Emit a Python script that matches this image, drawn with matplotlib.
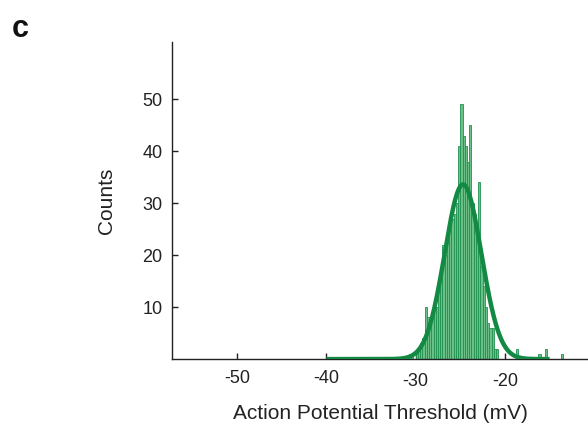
import numpy as np
import matplotlib
matplotlib.use("Agg")
import matplotlib.pyplot as plt
from matplotlib.transforms import ScaledTranslation

plt.rcParams['font.family'] = ['Liberation Sans', 'DejaVu Sans']

# histogram of AP thresholds, 0.25 mV bins
bin_width = 0.25
bin_left = [-30.75, -30.5, -30.25, -30.0, -29.75, -29.5, -29.25, -29.0, -28.75, -28.5,
            -28.25, -28.0, -27.75, -27.5, -27.25, -27.0, -26.75, -26.5, -26.25, -26.0,
            -25.75, -25.5, -25.25, -25.0, -24.75, -24.5, -24.25, -24.0, -23.75, -23.5,
            -23.25, -23.0, -22.75, -22.5, -22.25, -22.0, -21.75, -21.5, -21.25, -21.0,
            -18.75, -16.25, -15.5, -13.75]
counts = [1, 1, 0, 1, 2, 3, 4, 10, 8, 6,
          8, 10, 10, 14, 17, 22, 20, 23, 25, 27,
          28, 30, 41, 49, 43, 41, 38, 45, 30, 28,
          25, 34, 18, 14, 10, 7, 6, 6, 2, 2,
          2, 1, 2, 1]

# gaussian fit parameters
fit_mu = -24.7
fit_sigma = 2.05
fit_peak = 33.6
fit_range = (-40, -15)

xticks = [-50, -40, -30, -20]
yticks = [10, 20, 30, 40, 50]

fig = plt.figure(figsize=(5.88, 4.28), dpi=100)
ax = fig.add_axes([0.2925, 0.161, 0.7075, 0.741])

ax.bar(bin_left, counts, width=bin_width, align='edge',
       color='#6cbf86', edgecolor='#1f9150', linewidth=0.6, zorder=2)

xs = np.linspace(fit_range[0], fit_range[1], 400)
ax.plot(xs, fit_peak * np.exp(-0.5 * ((xs - fit_mu) / fit_sigma) ** 2),
        color='#138a43', lw=3.2, zorder=3, solid_capstyle='butt')

ax.set_xlim(-57.3, -10.7)
ax.set_ylim(0, 61)
ax.set_xticks(xticks)
ax.set_xticklabels([str(t) for t in xticks])
ax.set_yticks(yticks)

for s in ['top', 'right']:
    ax.spines[s].set_visible(False)
for s in ['left', 'bottom']:
    ax.spines[s].set_linewidth(1.0)
    ax.spines[s].set_color('#222222')

ax.tick_params(direction='in', length=4, width=1, colors='#222222',
               labelsize=13, labelcolor='#222222')
ax.tick_params(axis='x', pad=8)
ax.tick_params(axis='y', pad=7)

# the -30 / -20 labels sit a little lower
for lab in ax.get_xticklabels()[2:]:
    lab.set_transform(lab.get_transform() + ScaledTranslation(0, -3 / 100, fig.dpi_scale_trans))

ax.set_xlabel('Action Potential Threshold (mV)', fontsize=15, color='#222222', labelpad=10)
ax.set_ylabel('Counts', fontsize=15, color='#222222', labelpad=19)

fig.text(0.02, 0.9136, 'c', fontsize=22, fontweight='bold', color='#111111', va='baseline')

fig.savefig('out.png', dpi=100)
